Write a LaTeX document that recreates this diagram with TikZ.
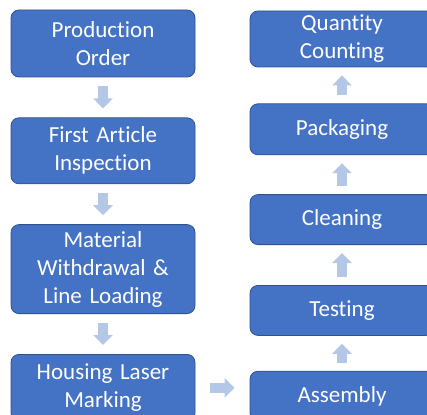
\documentclass[tikz,border=0pt]{standalone}
\usepackage{fontspec}
\setmainfont{Carlito}[Ligatures={NoCommon}]
\usepackage{tikz}
\usetikzlibrary{arrows.meta, positioning}
\definecolor{boxcol}{RGB}{68,114,196}
\definecolor{edgecol}{RGB}{47,82,143}
\definecolor{flowcol}{RGB}{180,199,231}

\begin{document}
\begin{tikzpicture}[
  x=1pt, y=1pt,
  font=\fontsize{23}{28}\selectfont,
  stepbox/.style={rectangle, rounded corners=8pt, fill=boxcol, draw=edgecol,
    line width=0.8pt, text=white, align=center, text width=184pt,
    minimum width=184pt, inner sep=0pt},
  flow/.style={flowcol, line width=10pt,
    -{Triangle[length=10pt, width=19pt]}, shorten <=8pt, shorten >=8pt}
]
  \useasboundingbox (0,0) rectangle (427,-414);
  \clip (0,0) rectangle (427,-414);

  % left column, top to bottom
  \node[stepbox, minimum height=67pt] (order) at (103,-43.5)
    {Production\\Order};
  \node[stepbox, minimum height=66pt, below=40pt of order] (fai)
    {First Article\\Inspection};
  \node[stepbox, minimum height=89pt, below=40pt of fai] (material)
    {Material\\Withdrawal \&\\Line Loading};
  \node[stepbox, minimum height=67pt, below=40pt of material] (laser)
    {Housing Laser\\Marking};

  % right column, bottom to top
  \node[stepbox, minimum height=56pt] (counting) at (342,-39)
    {Quantity\\Counting};
  \node[stepbox, minimum height=51pt, below=36pt of counting] (packaging)
    {Packaging};
  \node[stepbox, minimum height=50pt, below=39pt of packaging] (cleaning)
    {Cleaning};
  \node[stepbox, minimum height=50pt, below=40pt of cleaning] (testing)
    {Testing};
  \node[stepbox, minimum height=50pt, below=35pt of testing] (assembly)
    {Assembly};

  \draw[flow, shorten <=9pt, shorten >=9pt] (order) -- (fai);
  \draw[flow, shorten <=9pt, shorten >=9pt] (fai) -- (material);
  \draw[flow, shorten <=9pt, shorten >=9pt] (material) -- (laser);
  \draw[flow, shorten <=15pt, shorten >=15pt]
    (laser.east) -- (laser.east -| assembly.west);
  \draw[flow] (assembly) -- (testing);
  \draw[flow] (testing) -- (cleaning);
  \draw[flow] (cleaning) -- (packaging);
  \draw[flow] (packaging) -- (counting);

\end{tikzpicture}
\end{document}
